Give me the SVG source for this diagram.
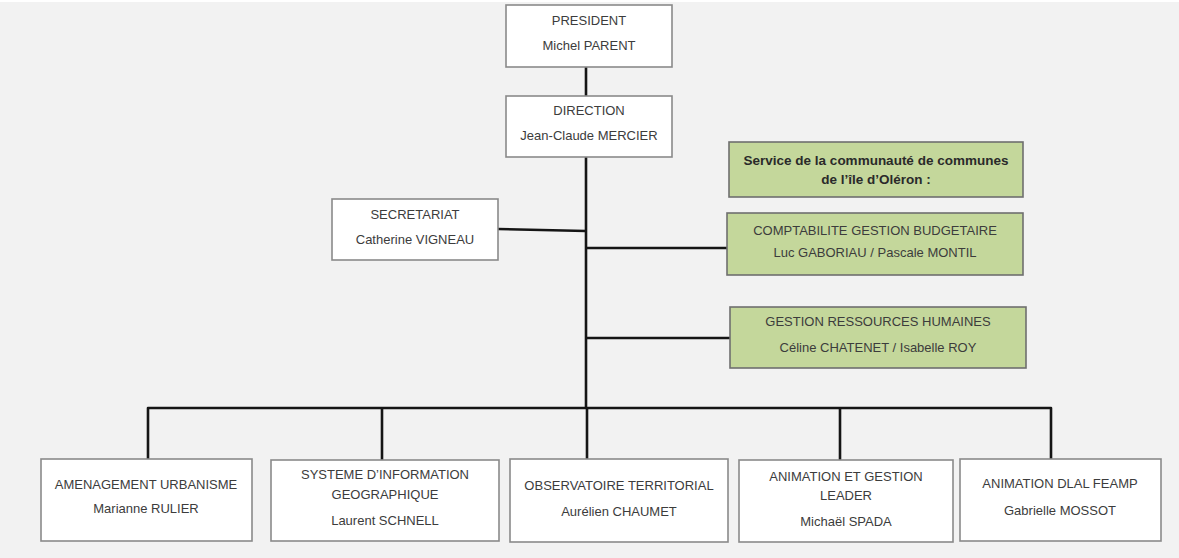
<svg xmlns="http://www.w3.org/2000/svg" width="1179" height="558" viewBox="0 0 1179 558">
<style>
.bx{fill:#ffffff;stroke:#8a8a8a;stroke-width:1.6}
.gr{fill:#c4d79b;stroke:#6f6f6f;stroke-width:1.6}
text{font-family:"Liberation Sans",Arial,sans-serif;font-size:13px;fill:#3c3c3c;text-anchor:middle}
.b{font-weight:bold;fill:#2a2a2a;font-size:13.5px}
.cn{fill:none;stroke:#151515;stroke-width:2.6;stroke-linejoin:round}
</style>
<rect x="0" y="0" width="1179" height="558" fill="#f2f2f2"/>
<rect x="0" y="0" width="1179" height="2" fill="#ffffff"/>
<g id="connectors">
<line class="cn" x1="586" y1="67" x2="586" y2="96"/>
<line class="cn" x1="586" y1="157" x2="586" y2="408"/>
<line class="cn" x1="498" y1="229" x2="586" y2="231"/>
<line class="cn" x1="586" y1="248" x2="728" y2="248"/>
<line class="cn" x1="586" y1="338" x2="730" y2="338"/>
<path class="cn" d="M148 459 V408 H1051 V459"/>
<line class="cn" x1="382" y1="408" x2="382" y2="460"/>
<line class="cn" x1="587" y1="408" x2="587" y2="459"/>
<line class="cn" x1="840" y1="408" x2="840" y2="460"/>
</g>
<g id="president">
<rect class="bx" x="506" y="5" width="166" height="62"/>
<text x="589" y="25">PRESIDENT</text>
<text x="589" y="50">Michel PARENT</text>
</g>
<g id="direction">
<rect class="bx" x="506" y="96" width="166" height="61"/>
<text x="589" y="115">DIRECTION</text>
<text x="589" y="140">Jean-Claude MERCIER</text>
</g>
<g id="secretariat">
<rect class="bx" x="332" y="199" width="166" height="61"/>
<text x="415" y="219">SECRETARIAT</text>
<text x="415" y="244">Catherine VIGNEAU</text>
</g>
<g id="service">
<rect class="gr" x="729" y="142" width="294" height="55"/>
<text class="b" x="876" y="165">Service de la communauté de communes</text>
<text class="b" x="876" y="184">de l’île d’Oléron :</text>
</g>
<g id="comptabilite">
<rect class="gr" x="727" y="213" width="296" height="62"/>
<text x="875" y="235">COMPTABILITE GESTION BUDGETAIRE</text>
<text x="875" y="257">Luc GABORIAU / Pascale MONTIL</text>
</g>
<g id="rh">
<rect class="gr" x="730" y="307" width="296" height="61"/>
<text x="878" y="326">GESTION RESSOURCES HUMAINES</text>
<text x="878" y="352">Céline CHATENET / Isabelle ROY</text>
</g>
<g id="amenagement">
<rect class="bx" x="41" y="459" width="211" height="82"/>
<text x="146" y="489">AMENAGEMENT URBANISME</text>
<text x="146" y="513">Marianne RULIER</text>
</g>
<g id="sig">
<rect class="bx" x="271" y="460" width="228" height="81"/>
<text x="385" y="479">SYSTEME D’INFORMATION</text>
<text x="385" y="499">GEOGRAPHIQUE</text>
<text x="385" y="525">Laurent SCHNELL</text>
</g>
<g id="observatoire">
<rect class="bx" x="510" y="459" width="218" height="83"/>
<text x="619" y="490">OBSERVATOIRE TERRITORIAL</text>
<text x="619" y="516">Aurélien CHAUMET</text>
</g>
<g id="leader">
<rect class="bx" x="739" y="460" width="214" height="82"/>
<text x="846" y="481">ANIMATION ET GESTION</text>
<text x="846" y="500">LEADER</text>
<text x="846" y="526">Michaël SPADA</text>
</g>
<g id="dlal">
<rect class="bx" x="960" y="459" width="201" height="82"/>
<text x="1060" y="488">ANIMATION DLAL FEAMP</text>
<text x="1060" y="515">Gabrielle MOSSOT</text>
</g>
</svg>
